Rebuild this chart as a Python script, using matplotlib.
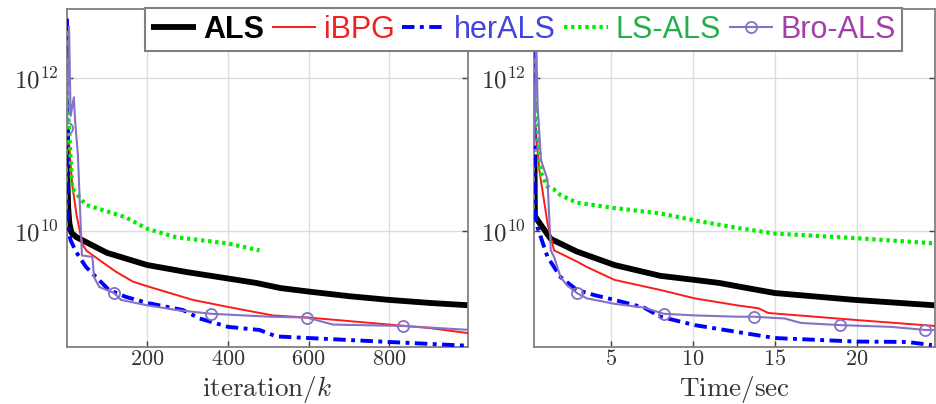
import matplotlib
matplotlib.use('Agg')
import matplotlib.pyplot as plt
from matplotlib.ticker import FixedLocator, FixedFormatter, NullLocator

plt.rcParams['mathtext.fontset'] = 'cm'

# ---------------- data ----------------
series_names = ["ALS", "iBPG", "herALS", "LS-ALS", "Bro-ALS"]

# left panel: objective vs iteration k
als_k = [1, 2, 4, 7, 12, 25, 48, 100, 200, 300, 400, 470, 530, 600, 700, 800, 900, 1000]
als_k_v = [2.1e11, 5.0e10, 2.0e10, 1.26e10, 9.5e9, 8.3e9, 7.2e9, 5.2e9, 3.6e9, 2.9e9,
           2.4e9, 2.1e9, 1.8e9, 1.62e9, 1.41e9, 1.26e9, 1.15e9, 1.07e9]

ibpg_k = [1, 6, 14, 25, 40, 50, 81, 122, 164, 200, 313, 400, 511, 600, 800, 900, 1000]
ibpg_k_v = [2.24e11, 1.41e11, 4.0e10, 1.58e10, 6.6e9, 5.5e9, 4.2e9, 2.95e9, 2.19e9, 1.9e9,
            1.26e9, 1.02e9, 7.9e8, 7.4e8, 6.0e8, 5.4e8, 4.6e8]

her_k = [1, 3, 10, 23, 48, 64, 105, 147, 200, 288, 330, 400, 478, 520, 600, 800, 1000]
her_k_v = [6.0e12, 1.1e10, 7.6e9, 5.4e9, 3.4e9, 2.8e9, 1.7e9, 1.38e9, 1.15e9, 9.3e8,
           7.2e8, 5.6e8, 5.1e8, 4.2e8, 4.0e8, 3.55e8, 3.16e8]

ls_k = [1, 14, 48, 105, 147, 200, 272, 400, 478]
ls_k_v = [6.9e11, 3.6e10, 2.2e10, 1.78e10, 1.51e10, 1.07e10, 8.3e9, 6.9e9, 5.6e9]

bro_k = [1, 6, 10, 18, 21, 28, 38, 64, 68, 81, 118, 135, 200, 272, 358, 503, 596, 660, 834, 1000]
bro_k_v = [2.24e11, 4.7e12, 3.2e11, 5.6e11, 2.8e11, 1.0e11, 4.8e9, 4.6e9, 2.5e9, 1.86e9,
           1.55e9, 1.26e9, 1.07e9, 9.3e8, 8.3e8, 7.6e8, 7.4e8, 6.0e8, 5.75e8, 5.1e8]
bro_k_marks = [0, 10, 14, 16, 18]

# right panel: objective vs time (sec)
als_t = [0.3, 0.33, 0.5, 1.3, 2.9, 5.2, 8.0, 10.1, 11.6, 12.7, 15, 19.9, 24.8]
als_t_v = [1.0e11, 1.58e10, 1.38e10, 7.9e9, 5.4e9, 3.6e9, 2.6e9, 2.3e9, 2.1e9, 1.9e9,
           1.55e9, 1.26e9, 1.07e9]

ibpg_t = [0.3, 0.6, 1.1, 1.5, 2.9, 3.5, 5.2, 8.0, 10.1, 12.7, 14.0, 14.6, 19.9, 24.8]
ibpg_t_v = [3.2e11, 6.3e10, 1.26e10, 5.6e9, 4.0e9, 3.4e9, 2.3e9, 1.7e9, 1.32e9, 1.07e9,
            9.8e8, 8.5e8, 6.9e8, 5.75e8]

her_t = [0.3, 0.32, 0.5, 1.1, 1.9, 2.9, 4.0, 5.2, 7.0, 8.0, 10.1, 12.7, 15, 19.9, 23.1, 24.6]
her_t_v = [6.0e12, 1.74e10, 1.1e10, 4.6e9, 2.5e9, 1.7e9, 1.45e9, 1.26e9, 1.0e9, 7.6e8,
           5.9e8, 4.8e8, 4.0e8, 3.6e8, 3.55e8, 3.24e8]

ls_t = [0.3, 0.7, 1.1, 1.5, 1.9, 2.9, 5.2, 8.0, 10.1, 12.7, 15, 19.9, 24.8]
ls_t_v = [7.4e11, 5.8e10, 3.8e10, 3.5e10, 2.95e10, 2.35e10, 2.0e10, 1.7e10, 1.38e10,
          1.1e10, 9.3e9, 8.1e9, 6.9e9]

bro_t = [0.3, 0.4, 0.5, 0.7, 1.1, 1.3, 1.5, 1.9, 2.3, 2.9, 3.5, 5.2, 7.0, 8.2, 10.1, 12.7,
         13.7, 15.6, 16.6, 19.0, 22.1, 24.2, 24.8]
bro_t_v = [1.32e11, 4.0e12, 4.2e11, 8.5e10, 4.7e10, 5.6e9, 4.6e9, 2.5e9, 1.95e9, 1.55e9,
           1.32e9, 1.12e9, 1.0e9, 8.3e8, 7.9e8, 7.6e8, 7.6e8, 7.2e8, 6.3e8, 5.9e8, 5.6e8,
           5.1e8, 5.1e8]
bro_t_marks = [0, 9, 13, 16, 19, 21]

x_ticks_left = [200, 400, 600, 800]
x_ticks_right = [5, 10, 15, 20]
y_ticks = [1e10, 1e12]
y_tick_labels = [r'$10^{10}$', r'$10^{12}$']

# ---------------- styles ----------------
styles = {
    "ALS": dict(color='black', lw=4.2, ls='-'),
    "iBPG": dict(color='#ff1a1a', lw=1.4, ls='-'),
    "herALS": dict(color='#0000ff', lw=2.8, ls=(0, (3.2, 1.4, 1.0, 1.4))),
    "LS-ALS": dict(color='#00ee00', lw=3.0, ls=(0, (0.8, 0.9))),
    "Bro-ALS": dict(color='#8572c4', lw=1.5, ls='-', marker='o', mfc='none', ms=8, mew=1.3),
}
text_colors = ['black', '#ee2222', '#4444dd', '#22b04a', '#a040a8']

fig = plt.figure(figsize=(9.37, 4.04), dpi=100)
axL = fig.add_axes([0.0715, 0.141, 0.428, 0.8366])
axR = fig.add_axes([0.570, 0.141, 0.428, 0.8366])

left_data = [(als_k, als_k_v, None), (ibpg_k, ibpg_k_v, None), (her_k, her_k_v, None),
             (ls_k, ls_k_v, None), (bro_k, bro_k_v, bro_k_marks)]
right_data = [(als_t, als_t_v, None), (ibpg_t, ibpg_t_v, None), (her_t, her_t_v, None),
              (ls_t, ls_t_v, None), (bro_t, bro_t_v, bro_t_marks)]

handles = []
for ax, data in ((axL, left_data), (axR, right_data)):
    hs = []
    for name, (x, y, mk) in zip(series_names, data):
        st = dict(styles[name])
        if mk is not None:
            st['markevery'] = mk
        h, = ax.plot(x, y, label=name, solid_capstyle='butt', dash_capstyle='butt',
                     zorder=3 if name != 'ALS' else 2.5, **st)
        hs.append(h)
    handles = hs

for ax in (axL, axR):
    ax.set_yscale('log')
    ax.set_ylim(3.05e8, 8.0e12)
    ax.yaxis.set_major_locator(FixedLocator(y_ticks))
    ax.yaxis.set_major_formatter(FixedFormatter(y_tick_labels))
    ax.yaxis.set_minor_locator(NullLocator())
    ax.grid(True, color='#dcdcdc', lw=1.0)
    ax.set_axisbelow(True)
    for sp in ax.spines.values():
        sp.set_color('#808080')
        sp.set_linewidth(1.3)
    ax.tick_params(axis='both', which='both', direction='in', top=True, right=True,
                   length=4, width=1, color='#404040', colors='#333333')
    ax.tick_params(axis='x', labelsize=16, pad=1.5)
    ax.tick_params(axis='y', labelsize=18, pad=6)

axL.set_xlim(1, 995)
axL.xaxis.set_major_locator(FixedLocator(x_ticks_left))
axL.xaxis.set_major_formatter(FixedFormatter([r'$%d$' % v for v in x_ticks_left]))
axL.set_xlabel(r'$\mathrm{iteration}/k$', fontsize=19.5, color='#333333', va='baseline')

axR.set_xlim(0.28, 24.8)
axR.xaxis.set_major_locator(FixedLocator(x_ticks_right))
axR.xaxis.set_major_formatter(FixedFormatter([r'$%d$' % v for v in x_ticks_right]))
axR.set_xlabel(r'$\mathrm{Time}/\mathrm{sec}$', fontsize=19.5, color='#333333', va='baseline')

for ax in (axL, axR):
    ax.xaxis.set_label_coords(0.5, -0.146)

leg = fig.legend(handles, series_names, loc='upper left', bbox_to_anchor=(0.155, 0.979),
                 ncol=5, frameon=True, fancybox=False, framealpha=1, edgecolor='#808080',
                 prop={'family': 'Liberation Sans', 'size': 22},
                 handlelength=1.45, handletextpad=0.25, columnspacing=0.25,
                 borderpad=0.2, borderaxespad=0.0)
leg.get_frame().set_linewidth(1.5)
leg.set_zorder(10)
for t, c in zip(leg.get_texts(), text_colors):
    t.set_color(c)
leg.get_texts()[0].set_fontweight('bold')

fig.savefig('out.png', dpi=100)
